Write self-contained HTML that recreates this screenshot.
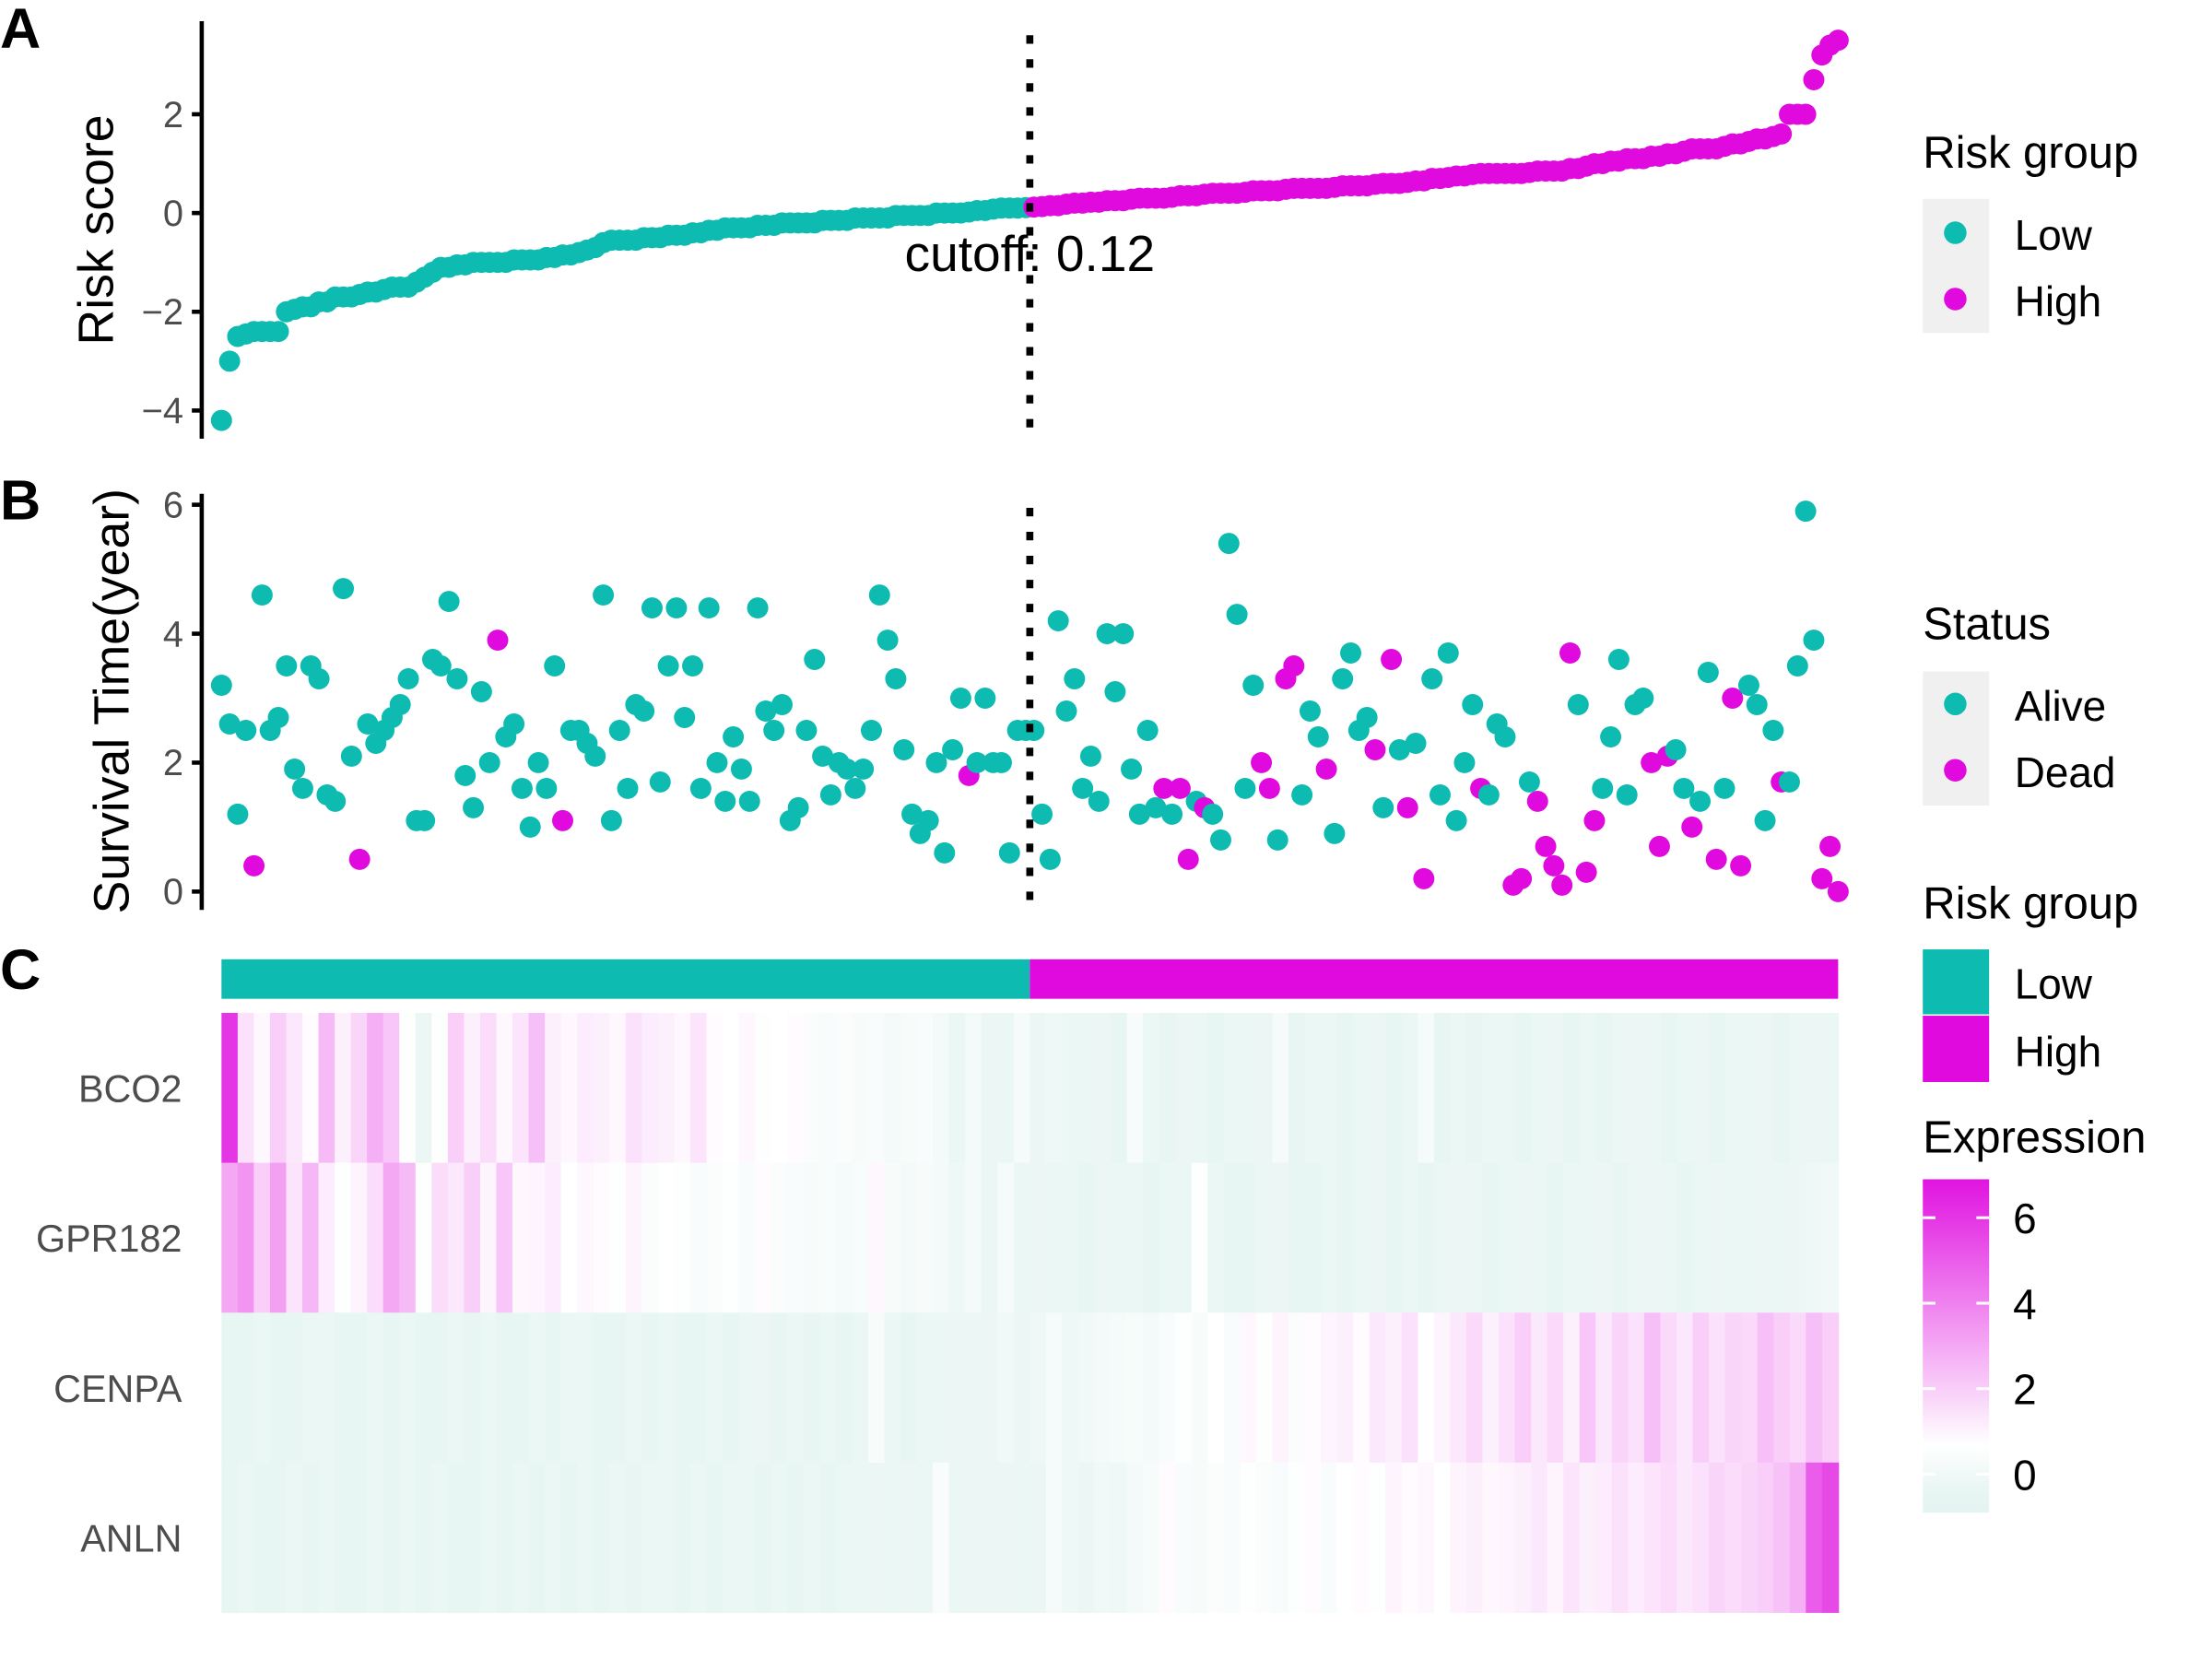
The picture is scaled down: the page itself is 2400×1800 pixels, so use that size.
<!DOCTYPE html>
<html><head><meta charset="utf-8"><style>
html,body{margin:0;padding:0;background:#fff;width:2400px;height:1800px;overflow:hidden}
svg{display:block;font-family:"Liberation Sans",sans-serif}
</style></head><body>
<svg id="chart" width="2400" height="1800" viewBox="0 0 1568 1176" preserveAspectRatio="none" xmlns="http://www.w3.org/2000/svg">
<rect width="1568" height="1176" fill="#fff"/>
<g id="gA"></g>
<g id="gB"></g>
<g id="gC"></g>
<g id="gL"></g>
</svg>
<script>
const riskScores=[-4.2,-3.0,-2.5,-2.45,-2.4,-2.4,-2.4,-2.4,-2.0,-1.95,-1.9,-1.9,-1.8,-1.8,-1.7,-1.7,-1.7,-1.65,-1.6,-1.6,
-1.55,-1.5,-1.5,-1.5,-1.4,-1.3,-1.2,-1.1,-1.1,-1.05,-1.05,-1.0,-1.0,-1.0,-1.0,-1.0,-0.95,-0.95,-0.95,-0.95,
-0.9,-0.9,-0.85,-0.85,-0.8,-0.75,-0.7,-0.6,-0.55,-0.55,-0.55,-0.55,-0.5,-0.5,-0.5,-0.45,-0.45,-0.45,-0.4,-0.4,
-0.35,-0.35,-0.3,-0.3,-0.3,-0.3,-0.25,-0.25,-0.25,-0.2,-0.2,-0.2,-0.2,-0.2,-0.15,-0.15,-0.15,-0.15,-0.1,-0.1,
-0.1,-0.1,-0.1,-0.05,-0.05,-0.05,-0.05,-0.05,0,0,0,0,0.02,0.05,0.05,0.08,0.1,0.1,0.1,0.11,
0.12,0.13,0.15,0.15,0.18,0.2,0.2,0.22,0.22,0.25,0.25,0.25,0.28,0.3,0.3,0.3,0.3,0.32,0.35,0.35,
0.35,0.38,0.4,0.4,0.4,0.4,0.42,0.45,0.45,0.45,0.45,0.48,0.5,0.5,0.5,0.5,0.5,0.52,0.55,0.55,
0.55,0.55,0.58,0.6,0.6,0.6,0.62,0.65,0.65,0.7,0.7,0.72,0.75,0.75,0.78,0.8,0.8,0.8,0.8,0.8,
0.8,0.82,0.85,0.85,0.85,0.85,0.9,0.9,0.95,1.0,1.0,1.05,1.05,1.1,1.1,1.1,1.15,1.15,1.2,1.2,
1.25,1.3,1.3,1.3,1.3,1.35,1.4,1.4,1.45,1.5,1.5,1.55,1.6,2.0,2.0,2.0,2.7,3.2,3.4,3.5];
const cutoff=0.12;
const survTimes=[3.2,2.6,1.2,2.5,0.4,4.6,2.5,2.7,3.5,1.9,1.6,3.5,3.3,1.5,1.4,4.7,2.1,0.5,2.6,2.3,
2.5,2.7,2.9,3.3,1.1,1.1,3.6,3.5,4.5,3.3,1.8,1.3,3.1,2.0,3.9,2.4,2.6,1.6,1.0,2.0,
1.6,3.5,1.1,2.5,2.5,2.3,2.1,4.6,1.1,2.5,1.6,2.9,2.8,4.4,1.7,3.5,4.4,2.7,3.5,1.6,
4.4,2.0,1.4,2.4,1.9,1.4,4.4,2.8,2.5,2.9,1.1,1.3,2.5,3.6,2.1,1.5,2.0,1.9,1.6,1.9,
2.5,4.6,3.9,3.3,2.2,1.2,0.9,1.1,2.0,0.6,2.2,3.0,1.8,2.0,3.0,2.0,2.0,0.6,2.5,2.5,
2.5,1.2,0.5,4.2,2.8,3.3,1.6,2.1,1.4,4.0,3.1,4.0,1.9,1.2,2.5,1.3,1.6,1.2,1.6,0.5,
1.4,1.3,1.2,0.8,5.4,4.3,1.6,3.2,2.0,1.6,0.8,3.3,3.5,1.5,2.8,2.4,1.9,0.9,3.3,3.7,
2.5,2.7,2.2,1.3,3.6,2.2,1.3,2.3,0.2,3.3,1.5,3.7,1.1,2.0,2.9,1.6,1.5,2.6,2.4,0.1,
0.2,1.7,1.4,0.7,0.4,0.1,3.7,2.9,0.3,1.1,1.6,2.4,3.6,1.5,2.9,3.0,2.0,0.7,2.1,2.2,
1.6,1.0,1.4,3.4,0.5,1.6,3.0,0.4,3.2,2.9,1.1,2.5,1.7,1.7,3.5,5.9,3.9,0.2,0.7,0.0];
const survDead=[0,0,0,0,1,0,0,0,0,0,0,0,0,0,0,0,0,1,0,0,
0,0,0,0,0,0,0,0,0,0,0,0,0,0,1,0,0,0,0,0,
0,0,1,0,0,0,0,0,0,0,0,0,0,0,0,0,0,0,0,0,
0,0,0,0,0,0,0,0,0,0,0,0,0,0,0,0,0,0,0,0,
0,0,0,0,0,0,0,0,0,0,0,0,1,0,0,0,0,0,0,0,
0,0,0,0,0,0,0,0,0,0,0,0,0,0,0,0,1,0,1,1,
0,1,0,0,0,0,0,0,1,1,0,1,1,0,0,0,1,0,0,0,
0,0,1,0,1,0,1,0,1,0,0,0,0,0,0,1,0,0,0,1,
1,0,1,1,1,1,1,0,1,1,0,0,0,0,0,0,1,1,1,0,
0,1,0,0,1,0,1,1,0,0,0,0,1,0,0,0,0,1,1,1];
const genes=["BCO2","GPR182","CENPA","ANLN"];
const exprBCO2=[6,1.5,0.9,2.0,1.3,0.8,2.5,1.1,1.8,2.8,2.2,0.6,-0.2,0.6,2.0,1.1,1.6,0.9,1.4,2.4,1.1,0.9,1.2,1.1,0.9,1.5,1.2,1.1,0.9,1.4,0.8,0.7,0.9,0.6,0.7,0.8,
0.5,0.4,0.5,0.3,0.4,0.1,0.3,0.4,0.1,-0.3,0.1,-0.2,-0.3,0.2,-0.2,-0.1,-0.3,-0.3,-0.2,-0.4,0.3,-0.3,-0.4,-0.2,-0.3,-0.4,-0.3,-0.3,-0.2,0.2,-0.4,-0.3,-0.3,-0.4,-0.3,-0.2,-0.4,-0.3,0.2,-0.4,-0.3,-0.4,-0.3,-0.3,-0.4,-0.3,-0.2,-0.4,-0.3,-0.4,-0.3,-0.2,-0.3,-0.4,-0.3,-0.2,-0.4,-0.3,-0.3,-0.2,-0.4,-0.3,-0.2,-0.3];
const exprGPR182=[3.0,3.5,2.0,3.2,1.4,2.6,1.2,0.6,1.0,1.6,3.0,2.5,0.6,1.6,1.3,2.0,1.0,2.2,0.9,1.0,1.2,0.7,0.9,0.8,0.6,1.0,0.5,0.7,0.6,0.4,0.5,0.6,0.4,0.8,0.5,0.4,0.3,0.4,0.2,0.4,0.9,0.3,0.1,0.3,0.1,-0.1,0.1,-0.2,0.2,-0.3,
-0.2,-0.3,-0.3,-0.4,-0.2,-0.3,-0.3,-0.4,-0.3,-0.3,0.6,-0.3,-0.4,-0.4,-0.3,-0.2,-0.4,-0.4,-0.3,-0.4,-0.3,-0.2,-0.4,-0.3,-0.4,-0.3,-0.2,-0.3,-0.4,-0.3,-0.2,-0.3,-0.4,-0.3,-0.3,-0.2,-0.4,-0.3,-0.2,-0.3,-0.4,-0.3,-0.2,-0.3,-0.3,-0.2,-0.3,-0.2,-0.1,0];
const exprCENPA=[-0.4,-0.4,-0.3,-0.4,-0.4,-0.3,-0.3,-0.4,-0.4,-0.3,-0.4,-0.3,-0.4,-0.4,-0.3,-0.4,-0.3,-0.4,-0.4,-0.3,-0.4,-0.3,-0.3,-0.4,-0.4,-0.3,-0.4,-0.3,-0.4,-0.4,-0.3,-0.4,-0.3,-0.2,-0.4,-0.3,-0.4,-0.3,-0.4,-0.3,
0.3,-0.3,-0.4,-0.3,-0.3,-0.2,-0.3,-0.2,0,-0.2,-0.1,0.2,-0.1,0,0.1,0.2,0.3,0.1,0.4,0.6,0.3,0.7,0.4,0.9,0.6,1.0,0.5,0.8,1.0,1.1,0.8,1.3,1.1,1.5,0.7,1.0,1.3,1.7,1.1,1.5,2.0,1.3,1.7,1.1,2.2,1.3,1.8,1.5,2.4,1.7,1.3,2.0,1.5,1.8,1.7,2.4,2.0,1.7,2.4,2.0];
const exprANLN=[-0.4,-0.3,-0.4,-0.4,-0.3,-0.4,-0.3,-0.4,-0.4,-0.3,-0.4,-0.3,-0.4,-0.3,-0.4,-0.4,-0.3,-0.4,-0.3,-0.4,-0.3,-0.4,-0.3,-0.4,-0.3,-0.4,-0.3,-0.3,-0.4,-0.3,-0.4,-0.3,-0.3,-0.4,-0.3,-0.4,-0.3,-0.4,-0.3,-0.3,
-0.2,-0.3,-0.2,-0.3,0.4,-0.3,-0.2,-0.3,-0.2,-0.3,-0.2,0.2,-0.1,-0.2,0,-0.1,0.1,0.3,0.8,0.4,0.3,0.5,0.4,0.6,0.5,0.4,0.6,0.8,0.4,0.7,0.8,0.6,1.0,0.8,0.9,0.7,1.0,1.1,0.9,1.0,1.1,1.3,1.0,1.4,1.1,1.2,1.5,1.2,1.4,1.6,1.3,1.5,1.8,1.6,1.8,2.0,2.3,2.8,5.0,5.5];
const exprRows=[exprBCO2,exprGPR182,exprCENPA,exprANLN];
const riskTicks=[2,0,-2,-4];
const survTicks=[6,4,2,0];
const exprTicks=[6,4,2,0];

const NS="http://www.w3.org/2000/svg";
const TEAL="#0DBBB1",MAG="#E00ADF";
function mk(tag,attrs,parent,txt){const e=document.createElementNS(NS,tag);for(const k in attrs)e.setAttribute(k,attrs[k]);if(txt!==undefined)e.textContent=txt;parent.appendChild(e);return e;}
const gA=document.getElementById('gA'),gB=document.getElementById('gB'),gC=document.getElementById('gC'),gL=document.getElementById('gL');
const n=riskScores.length;
const X0=157,X1=1303;
const xIdx=i=>X0+(X1-X0)*i/(n-1);
const yRisk=v=>151-35*v;
const ySurv=v=>632-45.7*v;
const nLow=riskScores.filter(v=>v<cutoff).length;
const xCut=(xIdx(nLow-1)+xIdx(nLow))/2;

let e;
e=mk('text',{x:0,y:34,'font-size':40,'font-weight':'bold'},gA,'A');

e=mk('line',{x1:143,y1:15,x2:143,y2:311,stroke:'#000','stroke-width':3},gA);

riskTicks.forEach(t=>{
  const y=yRisk(t);
  e=mk('line',{x1:136,y1:y,x2:143,y2:y,stroke:'#000','stroke-width':3},gA);
  
  e=mk('text',{x:130,y:y+9,'font-size':26,fill:'#4d4d4d','text-anchor':'end'},gA,t<0?'\u2212'+(-t):String(t));
  
});
e=mk('text',{x:0,y:0,'font-size':35,'text-anchor':'middle',transform:'translate(80,163) rotate(-90)'},gA,'Risk score');

riskScores.forEach((v,i)=>{
  e=mk('circle',{cx:xIdx(i),cy:yRisk(v),r:7.5,fill:v<cutoff?TEAL:MAG},gA);
  
});
e=mk('line',{x1:xCut,y1:25,x2:xCut,y2:312,stroke:'#000','stroke-width':5,'stroke-dasharray':'6,11'},gA);

e=mk('text',{x:xCut,y:192,'font-size':36,'text-anchor':'middle'},gA,'cutoff: '+cutoff);


e=mk('text',{x:0,y:368,'font-size':40,'font-weight':'bold'},gB,'B');

e=mk('line',{x1:143,y1:350,x2:143,y2:645,stroke:'#000','stroke-width':3},gB);

survTicks.forEach(t=>{
  const y=ySurv(t);
  e=mk('line',{x1:136,y1:y,x2:143,y2:y,stroke:'#000','stroke-width':3},gB);
  
  e=mk('text',{x:130,y:y+9,'font-size':26,fill:'#4d4d4d','text-anchor':'end'},gB,String(t));
  
});
e=mk('text',{x:0,y:0,'font-size':35,'text-anchor':'middle',transform:'translate(91,497) rotate(-90)'},gB,'Survival Time(year)');

survTimes.forEach((v,i)=>{
  e=mk('circle',{cx:xIdx(i),cy:ySurv(v),r:7.5,fill:survDead[i]?MAG:TEAL},gB);
  
});
e=mk('line',{x1:xCut,y1:360,x2:xCut,y2:646,stroke:'#000','stroke-width':5,'stroke-dasharray':'6,11'},gB);


e=mk('text',{x:0,y:701,'font-size':40,'font-weight':'bold'},gC,'C');

e=mk('rect',{x:X0,y:680,width:xCut-X0,height:28,fill:TEAL},gC);

e=mk('rect',{x:xCut,y:680,width:X1-xCut,height:28,fill:MAG},gC);

function hex(c){return [parseInt(c.slice(1,3),16),parseInt(c.slice(3,5),16),parseInt(c.slice(5,7),16)];}
const cLo=hex('#E4F4F1'),cMid=hex('#FFFFFF'),cHi=hex('#E010E0');
const vLo=-0.6,vMid=0.7,vHi=7;
function col(v){let a,b,t;if(v<vMid){a=cLo;b=cMid;t=Math.max(0,(v-vLo)/(vMid-vLo));}else{a=cMid;b=cHi;t=Math.min(1,(v-vMid)/(vHi-vMid));}
  return 'rgb('+a.map((x,k)=>Math.round(x+(b[k]-x)*t)).join(',')+')';}
const rowTop=718,rowH=106.25;
exprRows.forEach((row,r)=>{
  const m=row.length,w=(X1-X0)/m;
  row.forEach((v,j)=>{
    e=mk('rect',{x:X0+j*w,y:rowTop+r*rowH,width:w+0.6,height:rowH+0.3,fill:col(v)},gC);
    
  });
  e=mk('text',{x:129,y:rowTop+r*rowH+rowH/2+10,'font-size':27,fill:'#4d4d4d','text-anchor':'end'},gC,genes[r]);
  
});

function title(t,y,name){e=mk('text',{x:1363,y:y,'font-size':32},gL,t);}
title('Risk group',119,'risk-legend-title');
e=mk('rect',{x:1363,y:141,width:47,height:95,fill:'#f0f0f0'},gL);

e=mk('circle',{cx:1386,cy:165,r:8,fill:TEAL},gL);
e=mk('circle',{cx:1386,cy:212,r:8,fill:MAG},gL);
e=mk('text',{x:1428,y:177,'font-size':30},gL,'Low');
e=mk('text',{x:1428,y:224,'font-size':30},gL,'High');
title('Status',453,'status-legend-title');
e=mk('rect',{x:1363,y:476,width:47,height:95,fill:'#f0f0f0'},gL);

e=mk('circle',{cx:1386,cy:499,r:8,fill:TEAL},gL);
e=mk('circle',{cx:1386,cy:546,r:8,fill:MAG},gL);
e=mk('text',{x:1428,y:511,'font-size':30},gL,'Alive');
e=mk('text',{x:1428,y:558,'font-size':30},gL,'Dead');
title('Risk group',651,'risk-bar-legend-title');
e=mk('rect',{x:1363,y:673,width:47,height:46,fill:TEAL},gL);
e=mk('rect',{x:1363,y:720,width:47,height:47,fill:MAG},gL);
e=mk('text',{x:1428,y:708,'font-size':30},gL,'Low');
e=mk('text',{x:1428,y:756,'font-size':30},gL,'High');
title('Expression',817,'expression-legend-title');
const defs=mk('defs',{},gL);
const grad=mk('linearGradient',{id:'eg',x1:0,y1:1,x2:0,y2:0},defs);
const vMin=-0.9,vMax=6.9;
for(let k=0;k<=20;k++){const v=vMin+(vMax-vMin)*k/20;mk('stop',{offset:(k/20),'stop-color':col(v)},grad);}
const yE=v=>1045-30.3*v;
e=mk('rect',{x:1363,y:yE(vMax),width:47,height:yE(vMin)-yE(vMax),fill:'url(#eg)'},gL);

exprTicks.forEach(t=>{
  const y=yE(t);
  e=mk('line',{x1:1363,y1:y,x2:1372,y2:y,stroke:'#fff','stroke-width':2},gL);
  
  e=mk('line',{x1:1401,y1:y,x2:1410,y2:y,stroke:'#fff','stroke-width':2},gL);
  
  e=mk('text',{x:1427,y:y+11,'font-size':30},gL,String(t));
  
});
</script>
</body></html>
